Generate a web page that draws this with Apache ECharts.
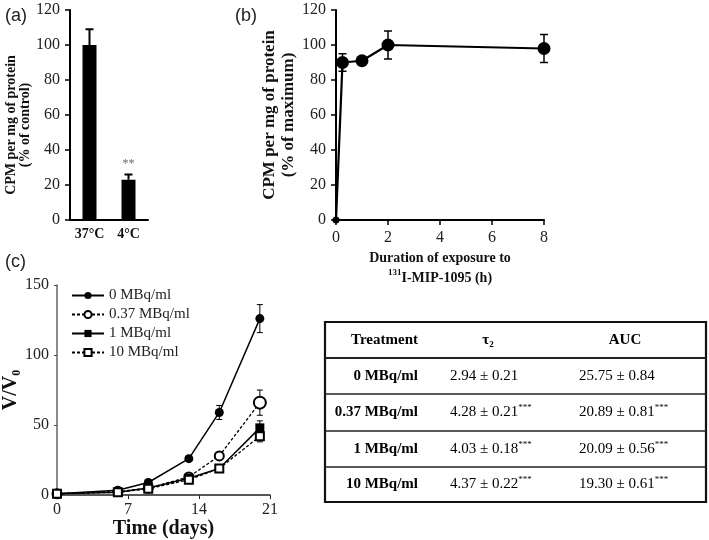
<!DOCTYPE html>
<html><head><meta charset="utf-8">
<script src="https://cdn.jsdelivr.net/npm/echarts@6/dist/echarts.min.js"></script>
<style>html,body{margin:0;padding:0;background:#fff}#c{width:709px;height:540px}</style>
</head><body><div id="c"></div>
<script>
// ---- Panel (a) data ----
const aCats = ['37°C', '4°C'];
const aVals = [100, 23];
const aErr = [9, 3];
const aSig = ['', '**'];
// ---- Panel (b) data ----
const bX = [0, 0.25, 1, 2, 8];
const bY = [0, 90, 91, 100, 98];
const bErr = [0, 5, 0, 8, 8];
// ---- Panel (c) data ----
const cDays = [0, 6, 9, 13, 16, 20];
const cNames = ['0 MBq/ml', '0.37 MBq/ml', '1 MBq/ml', '10 MBq/ml'];
const c0 = [1, 3.5, 9, 26, 59, 126];
const c0e = [0, 0, 0, 0, 5, 10];
const c037 = [1, 2.5, 5, 13, 28, 66];
const c037e = [0, 0, 0, 0, 2, 9];
const c1 = [1, 2, 5, 12, 19, 48];
const c1e = [0, 0, 0, 0, 0, 5];
const c10 = [1, 2, 4.5, 11, 19, 42];
const c10e = [0, 0, 0, 0, 0, 4];
// ---- Table data ----
const tHead = ['Treatment', 'τ2', 'AUC'];
const tTreat = ['0 MBq/ml', '0.37 MBq/ml', '1 MBq/ml', '10 MBq/ml'];
const tTau = ['2.94 ± 0.21', '4.28 ± 0.21', '4.03 ± 0.18', '4.37 ± 0.22'];
const tTauSig = ['', '***', '***', '***'];
const tAuc = ['25.75 ± 0.84', '20.89 ± 0.81', '20.09 ± 0.56', '19.30 ± 0.61'];
const tAucSig = ['', '***', '***', '***'];

const SERIF = 'Liberation Serif';
const SANS = 'Liberation Sans';

function errBars(capW, upOnly, lw) {
  return function (params, api) {
    const x = api.value(0), y = api.value(1), e = api.value(2);
    if (!e) return null;
    const top = api.coord([x, y + e]);
    const bot = api.coord([x, upOnly ? y : y - e]);
    const st = { stroke: '#000', lineWidth: lw };
    const ch = [
      { type: 'line', shape: { x1: top[0], y1: top[1], x2: bot[0], y2: bot[1] }, style: st },
      { type: 'line', shape: { x1: top[0] - capW, y1: top[1], x2: top[0] + capW, y2: top[1] }, style: st }
    ];
    if (!upOnly) ch.push({ type: 'line', shape: { x1: bot[0] - capW, y1: bot[1], x2: bot[0] + capW, y2: bot[1] }, style: st });
    return { type: 'group', children: ch };
  };
}
function zipXY(xs, ys) { return xs.map((x, i) => [x, ys[i]]); }
function zipXYE(xs, ys, es) { return xs.map((x, i) => [x, ys[i], es[i]]); }

const axisLineBlack = { show: true, lineStyle: { color: '#000', width: 2 } };
const tickLabel = { fontFamily: SERIF, fontSize: 16, color: '#222' };

// Table graphics
const TL = 325, TR = 706, rowsY = [322, 358, 394, 431, 467, 502];
const colTreatX = 418, colTauX = 450, colAucX = 579, headTauX = 488, headAucX = 625;
const tableEls = [];
tableEls.push({ type: 'rect', shape: { x: TL, y: rowsY[0], width: TR - TL, height: rowsY[5] - rowsY[0] }, style: { fill: 'none', stroke: '#111', lineWidth: 2.2 } });
for (let i = 1; i < 5; i++) {
  tableEls.push({ type: 'line', shape: { x1: TL, y1: rowsY[i], x2: TR, y2: rowsY[i] }, style: { stroke: '#222', lineWidth: i === 1 ? 2.2 : 1.5 } });
}
const richT = {
  b: { fontFamily: SERIF, fontSize: 15, fontWeight: 'bold', color: '#111', lineHeight: 18 },
  v: { fontFamily: SERIF, fontSize: 15, color: '#222', lineHeight: 18 },
  s: { fontFamily: SERIF, fontSize: 9, color: '#222', verticalAlign: 'top', lineHeight: 18 },
  sub: { fontFamily: SERIF, fontSize: 9, fontWeight: 'bold', color: '#111', verticalAlign: 'bottom', lineHeight: 16 }
};
const hY = (rowsY[0] + rowsY[1]) / 2;
tableEls.push({ type: 'text', style: { x: colTreatX, y: hY, text: '{b|' + tHead[0] + '}', rich: richT, align: 'right', verticalAlign: 'middle' } });
tableEls.push({ type: 'text', style: { x: headTauX, y: hY, text: '{b|' + tHead[1].charAt(0) + '}{sub|' + tHead[1].slice(1) + '}', rich: richT, align: 'center', verticalAlign: 'middle' } });
tableEls.push({ type: 'text', style: { x: headAucX, y: hY, text: '{b|' + tHead[2] + '}', rich: richT, align: 'center', verticalAlign: 'middle' } });
for (let i = 0; i < tTreat.length; i++) {
  const cy = (rowsY[i + 1] + rowsY[i + 2]) / 2;
  tableEls.push({ type: 'text', style: { x: colTreatX, y: cy, text: '{b|' + tTreat[i] + '}', rich: richT, align: 'right', verticalAlign: 'middle' } });
  tableEls.push({ type: 'text', style: { x: colTauX, y: cy, text: '{v|' + tTau[i] + '}' + (tTauSig[i] ? '{s|' + tTauSig[i] + '}' : ''), rich: richT, align: 'left', verticalAlign: 'middle' } });
  tableEls.push({ type: 'text', style: { x: colAucX, y: cy, text: '{v|' + tAuc[i] + '}' + (tAucSig[i] ? '{s|' + tAucSig[i] + '}' : ''), rich: richT, align: 'left', verticalAlign: 'middle' } });
}
const panelLabels = [
  { type: 'text', style: { x: 5, y: 16, text: '(a)', fontFamily: SANS, fontSize: 18, fill: '#222', verticalAlign: 'middle' } },
  { type: 'text', style: { x: 235, y: 16, text: '(b)', fontFamily: SANS, fontSize: 18, fill: '#222', verticalAlign: 'middle' } },
  { type: 'text', style: { x: 5, y: 262, text: '(c)', fontFamily: SANS, fontSize: 18, fill: '#222', verticalAlign: 'middle' } }
];

const chart = echarts.init(document.getElementById('c'), null, { renderer: 'canvas' });
const option = {
  animation: false,
  backgroundColor: '#fff',
  grid: [
    { left: 70, top: 10, width: 78, height: 210 },
    { left: 336, top: 10, width: 208, height: 210 },
    { left: 57, top: 285, width: 213, height: 211 }
  ],
  xAxis: [
    { gridIndex: 0, type: 'category', data: aCats, axisLine: axisLineBlack, axisTick: { show: false },
      axisLabel: { interval: 0, hideOverlap: false, fontFamily: SERIF, fontSize: 14, fontWeight: 'bold', color: '#111', margin: 7 } },
    { gridIndex: 1, type: 'value', min: 0, max: 8, interval: 2, splitLine: { show: false }, axisLine: axisLineBlack,
      axisTick: { show: true, length: 5, lineStyle: { color: '#000', width: 1.5 } }, axisLabel: Object.assign({ margin: 10 }, tickLabel),
      name: '{n|Duration of exposure to}\n{s|131}{n|I-MIP-1095 (h)}', nameLocation: 'middle', nameGap: 28,
      nameTextStyle: { rich: {
        n: { fontFamily: SERIF, fontSize: 14, fontWeight: 'bold', color: '#111', lineHeight: 20 },
        s: { fontFamily: SERIF, fontSize: 9, fontWeight: 'bold', color: '#111', verticalAlign: 'top', lineHeight: 20 } } } },
    { gridIndex: 2, type: 'value', min: 0, max: 21, interval: 7, splitLine: { show: false },
      axisLine: { show: true, lineStyle: { color: '#222', width: 1.5 } },
      axisTick: { show: true, length: 4, lineStyle: { color: '#222' } }, axisLabel: Object.assign({ margin: 7 }, tickLabel),
      name: 'Time (days)', nameLocation: 'middle', nameGap: 22,
      nameTextStyle: { fontFamily: SERIF, fontSize: 20, fontWeight: 'bold', color: '#111', verticalAlign: 'top' } }
  ],
  yAxis: [
    { gridIndex: 0, type: 'value', min: 0, max: 120, interval: 20, splitLine: { show: false }, axisLine: axisLineBlack,
      axisTick: { show: true, length: 5, lineStyle: { color: '#000', width: 1.5 } }, axisLabel: Object.assign({ margin: 10 }, tickLabel),
      name: 'CPM per mg of protein\n(% of control)', nameLocation: 'middle', nameGap: 36,
      nameTextStyle: { fontFamily: SERIF, fontSize: 14, fontWeight: 'bold', color: '#111', lineHeight: 14, padding: [0, 20, 0, 0] } },
    { gridIndex: 1, type: 'value', min: 0, max: 120, interval: 20, splitLine: { show: false }, axisLine: axisLineBlack,
      axisTick: { show: true, length: 5, lineStyle: { color: '#000', width: 1.5 } }, axisLabel: Object.assign({ margin: 10 }, tickLabel),
      name: 'CPM per mg of protein\n(% of maximum)', nameLocation: 'middle', nameGap: 38,
      nameTextStyle: { fontFamily: SERIF, fontSize: 17, fontWeight: 'bold', color: '#111', lineHeight: 19 } },
    { gridIndex: 2, type: 'value', min: 0, max: 150, interval: 50, splitLine: { show: false },
      axisLine: { show: true, lineStyle: { color: '#666', width: 1.5 } },
      axisTick: { show: true, length: 3, lineStyle: { color: '#444' } }, axisLabel: Object.assign({ margin: 8 }, tickLabel),
      name: 'V/V₀', nameLocation: 'middle', nameGap: 30,
      nameTextStyle: { fontFamily: SERIF, fontSize: 20, fontWeight: 'bold', color: '#111' } }
  ],
  legend: {
    data: cNames, orient: 'vertical', left: 66, top: 283, itemWidth: 32, itemHeight: 9, itemGap: 4,
    textStyle: { fontFamily: SERIF, fontSize: 15, color: '#222' }, selectedMode: false
  },
  series: [
    { type: 'bar', xAxisIndex: 0, yAxisIndex: 0, data: aVals, barWidth: 14, itemStyle: { color: '#000' },
      label: { show: true, position: 'top', distance: 10, formatter: p => aSig[p.dataIndex], fontFamily: SERIF, fontSize: 12, color: '#666' } },
    { type: 'custom', xAxisIndex: 0, yAxisIndex: 0, renderItem: errBars(4, true, 2), data: aVals.map((v, i) => [i, v, aErr[i]]), z: 1 },
    { type: 'line', xAxisIndex: 1, yAxisIndex: 1, data: zipXY(bX, bY), symbol: 'circle',
      symbolSize: (v, p) => p.dataIndex === 0 ? 7 : 13, lineStyle: { color: '#000', width: 2.2 }, itemStyle: { color: '#000' }, z: 3 },
    { type: 'custom', xAxisIndex: 1, yAxisIndex: 1, renderItem: errBars(4, false, 1.5), data: zipXYE(bX, bY, bErr), z: 2 },
    { name: cNames[0], type: 'line', xAxisIndex: 2, yAxisIndex: 2, data: zipXY(cDays, c0), symbol: 'circle', symbolSize: 9,
      lineStyle: { color: '#000', width: 1.5 }, itemStyle: { color: '#000' }, z: 3 },
    { name: cNames[1], type: 'line', xAxisIndex: 2, yAxisIndex: 2, data: zipXY(cDays, c037), symbol: 'emptyCircle',
      symbolSize: (v, p) => (p && p.dataIndex === cDays.length - 1) ? 12 : 9,
      lineStyle: { color: '#000', width: 1.3, type: [3, 2] }, itemStyle: { color: '#000', borderWidth: 1.5 }, z: 3 },
    { name: cNames[2], type: 'line', xAxisIndex: 2, yAxisIndex: 2, data: zipXY(cDays, c1), symbol: 'rect', symbolSize: 9,
      lineStyle: { color: '#000', width: 1.5 }, itemStyle: { color: '#000' }, z: 3 },
    { name: cNames[3], type: 'line', xAxisIndex: 2, yAxisIndex: 2, data: zipXY(cDays, c10), symbol: 'emptyRect', symbolSize: 8,
      lineStyle: { color: '#000', width: 1.3, type: [3, 2] }, itemStyle: { color: '#000', borderWidth: 1.2 }, z: 3 },
    { type: 'custom', xAxisIndex: 2, yAxisIndex: 2, renderItem: errBars(3, false, 1), data: zipXYE(cDays, c0, c0e), z: 2 },
    { type: 'custom', xAxisIndex: 2, yAxisIndex: 2, renderItem: errBars(3, false, 1), data: zipXYE(cDays, c037, c037e), z: 2 },
    { type: 'custom', xAxisIndex: 2, yAxisIndex: 2, renderItem: errBars(3, false, 1), data: zipXYE(cDays, c1, c1e), z: 2 },
    { type: 'custom', xAxisIndex: 2, yAxisIndex: 2, renderItem: errBars(3, false, 1), data: zipXYE(cDays, c10, c10e), z: 2 }
  ],
  graphic: tableEls.concat(panelLabels)
};
chart.setOption(option);
</script></body></html>
